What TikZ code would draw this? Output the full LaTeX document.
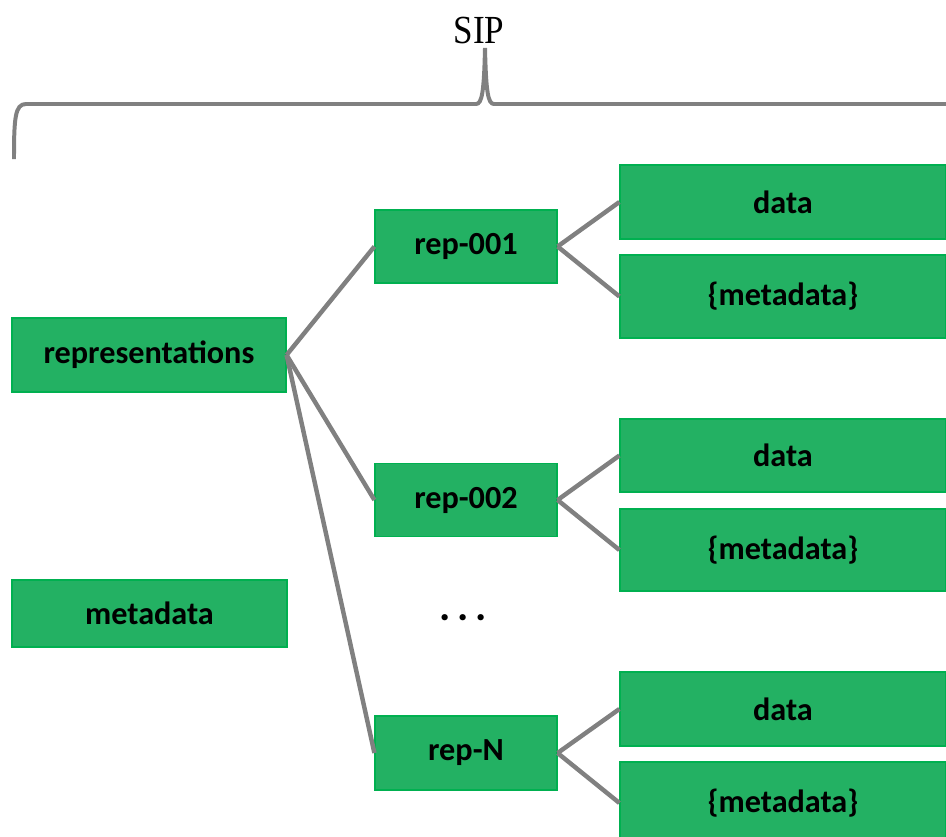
\documentclass[tikz,border=0pt]{standalone}
\usepackage{fontspec}
\setmainfont{Liberation Serif}
\newfontfamily\boxfont{Carlito}
\definecolor{boxgreen}{RGB}{35,177,99}
\definecolor{boxline}{RGB}{0,176,80}
\definecolor{linkgray}{RGB}{128,128,128}

\begin{document}
\begin{tikzpicture}[
    x=0.03cm, y=-0.03cm,
    box/.style={rectangle, draw=boxline, fill=boxgreen, line width=1pt,
        inner sep=0pt, font=\boxfont\bfseries\fontsize{27.5}{32}\selectfont},
    link/.style={draw=linkgray, line width=3.8pt, -}
]
    \useasboundingbox (0,0) rectangle (946,837);
    \node[font=\fontsize{34}{38}\selectfont, xscale=0.88] (sip) at (479,31) {SIP};
    \draw[link, line width=3.4pt] (14,159) .. controls (14,118) and (15,104) .. (26,104)
        -- (476,104) .. controls (482,104) and (484,92) .. (485,48)
        .. controls (486,92) and (488,104) .. (494,104) -- (946,104);
    \node[box, minimum width=8.22cm, minimum height=2.22cm] (repr) at (149,355) {representations};
    \node[box, minimum width=8.25cm, minimum height=2.01cm] (meta) at (149.5,613.5) {metadata};
    \node[box, minimum width=5.46cm, minimum height=2.19cm] (rep1) at (466,246.5) {rep-001};
    \node[box, minimum width=5.46cm, minimum height=2.19cm] (rep2) at (466,500) {rep-002};
    \node[box, minimum width=5.46cm, minimum height=2.22cm] (repn) at (466,753) {rep-N};
    \node[box, minimum width=9.78cm, minimum height=2.22cm] (data1) at (783,202) {data};
    \node[box, minimum width=9.78cm, minimum height=2.49cm] (md1) at (783,296.5) {\{metadata\}};
    \node[box, minimum width=9.78cm, minimum height=2.19cm] (data2) at (783,455.5) {data};
    \node[box, minimum width=9.78cm, minimum height=2.46cm] (md2) at (783,550) {\{metadata\}};
    \node[box, minimum width=9.78cm, minimum height=2.22cm] (datan) at (783,709) {data};
    \node[box, minimum width=9.78cm, minimum height=2.46cm] (mdn) at (783,803) {\{metadata\}};
    \node[font=\boxfont\bfseries\fontsize{36}{40}\selectfont, anchor=base] (dots) at (463,620) {.\,.\,.};
    \draw[link] (repr.east) -- (rep1.west);
    \draw[link] (repr.east) -- (rep2.west);
    \draw[link] (repr.east) -- (repn.west);
    \draw[link] (rep1.east) -- (data1.west);
    \draw[link] (rep1.east) -- (md1.west);
    \draw[link] (rep2.east) -- (data2.west);
    \draw[link] (rep2.east) -- (md2.west);
    \draw[link] (repn.east) -- (datan.west);
    \draw[link] (repn.east) -- (mdn.west);
\end{tikzpicture}
\end{document}
